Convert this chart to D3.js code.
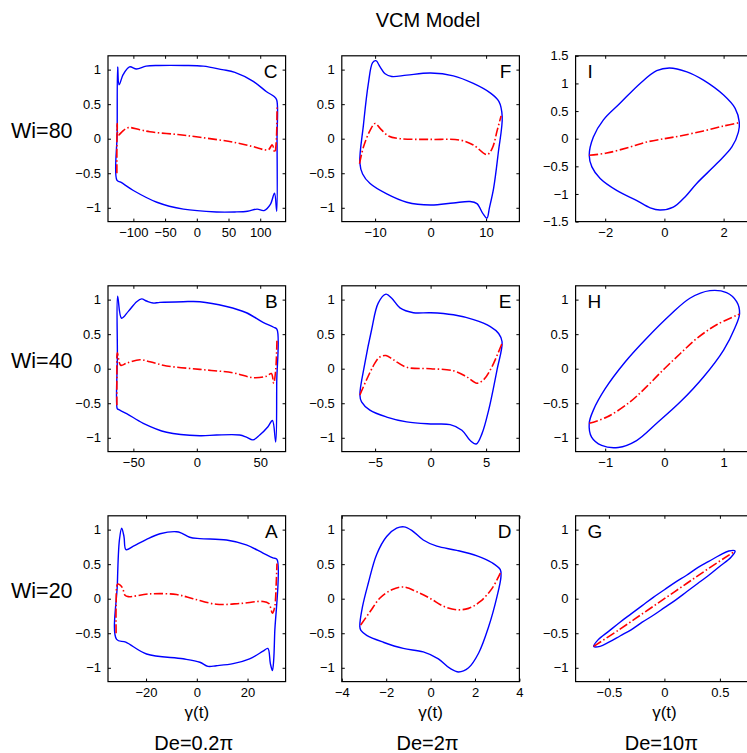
<!DOCTYPE html>
<html><head><meta charset="utf-8">
<script src="https://cdn.jsdelivr.net/npm/d3@7"></script>
<style>body{margin:0;background:#fff} text{font-family:"Liberation Sans",Arial,Helvetica,sans-serif;fill:#000}</style>
</head><body><svg id="c" width="747" height="753"></svg>
<script>
// ---- labels ----
const chartTitle = "VCM Model";
const rowLabels = ["Wi=80", "Wi=40", "Wi=20"];
const colLabels = ["De=0.2π", "De=2π", "De=10π"];
const xAxisLabel = "γ(t)";
const panelLetters = ["C", "F", "I", "B", "E", "H", "A", "D", "G"];

// ---- axis domains & ticks (panel order C F I / B E H / A D G) ----
const xDomains = [[-140,140],[-16,16],[-3,3],[-70,70],[-8,8],[-1.5,1.5],[-35,35],[-4,4],[-0.8,0.8]];
const yDomains = [[-1.2,1.2],[-1.2,1.2],[-1.5,1.5],[-1.2,1.2],[-1.2,1.2],[-1.2,1.2],[-1.2,1.2],[-1.2,1.2],[-1.2,1.2]];
const xTicks = [[-100,-50,0,50,100],[-10,0,10],[-2,0,2],[-50,0,50],[-5,0,5],[-1,0,1],[-20,0,20],[-4,-2,0,2,4],[-0.5,0,0.5]];
const yTicksStd = [-1,-0.5,0,0.5,1];
const yTicksWide = [-1.5,-1,-0.5,0,0.5,1,1.5];

// ---- series: blue loops (shear stress) and red curves, [γ, value] ----
const loopC = [[-126,-0.6],[-125.5,0.1],[-124.8,1.04],[-122.5,0.78],[-116,0.93],[-106,1.04],[-95,1.01],[-80,1.05],[-60,1.06],[-20,1.06],[10,1.05],[40,1.0],[60,0.96],[89,0.83],[110,0.68],[122,0.61],[126,0.56],[126.5,0],[126,-1.05],[122.5,-0.79],[116,-0.95],[106,-1.04],[95,-1.02],[80,-1.05],[60,-1.06],[31,-1.06],[-21,-1.02],[-63,-0.92],[-100,-0.75],[-120,-0.63]];
const redC = [[-126,-0.5],[-126,-0.15],[-125.5,0.22],[-124,0.05],[-118,0.1],[-108,0.16],[-90,0.13],[-74,0.1],[-30,0.06],[5,0.02],[57,-0.05],[95,-0.13],[106,-0.16],[113,-0.16],[119,-0.09],[123,-0.2],[125.5,0],[126.5,0.45]];

const loopF = [[-12.75,-0.35],[-12.1,0.2],[-11.25,0.78],[-10.45,1.1],[-9.85,1.13],[-9.1,1.04],[-8.2,0.94],[-7.0,0.9],[-4.3,0.92],[0,0.95],[4.1,0.91],[7.7,0.8],[10.8,0.66],[12.3,0.54],[12.9,0.32],[12.2,-0.2],[11.35,-0.72],[10.6,-1.0],[10.15,-1.15],[9.4,-1.08],[8.35,-0.94],[7.1,-0.91],[4.1,-0.93],[0,-0.96],[-4.3,-0.92],[-7.9,-0.8],[-10.9,-0.65],[-12.25,-0.51]];
const redF = [[-12.8,-0.36],[-12.1,-0.12],[-10.9,0.12],[-10.0,0.22],[-9.1,0.15],[-7.6,0.04],[-5.5,0.0],[0,-0.01],[5.3,-0.02],[7.7,-0.09],[10.15,-0.23],[11.1,-0.14],[12.0,0.12],[12.7,0.33]];

const loopI = [[-2.54,-0.3],[-2.45,-0.51],[-2.17,-0.72],[-1.6,-0.94],[-0.93,-1.12],[-0.48,-1.25],[-0.15,-1.29],[0.3,-1.24],[0.72,-1.04],[1.09,-0.81],[1.77,-0.45],[2.28,-0.15],[2.5,0.12],[2.53,0.3],[2.39,0.55],[2.0,0.79],[1.32,1.06],[0.76,1.21],[0.17,1.28],[-0.26,1.23],[-0.82,1.0],[-1.5,0.64],[-2.06,0.34],[-2.4,0.03]];
const redI = [[-2.54,-0.3],[-1.95,-0.26],[-1.16,-0.15],[-0.6,-0.06],[0,0],[0.53,0.05],[1.32,0.14],[2.0,0.23],[2.53,0.29]];

const loopB = [[-62.7,-0.58],[-62.6,0.2],[-62.4,1.05],[-59.3,0.73],[-54,0.83],[-47.4,0.97],[-43.5,1.01],[-39.6,0.98],[-34.4,0.95],[-29.1,0.96],[-10.8,0.97],[2.4,0.97],[23.4,0.9],[39.1,0.81],[52.2,0.67],[60.6,0.6],[63.2,0.57],[63,-0.2],[62.2,-1.06],[59.6,-0.75],[56.1,-0.84],[49.6,-0.96],[44.3,-1.03],[39.1,-0.99],[33.8,-0.96],[15.5,-0.96],[2.4,-0.97],[-23.8,-0.92],[-42.2,-0.79],[-55.3,-0.65],[-61.9,-0.59]];
const redB = [[-63,-0.53],[-63,-0.1],[-62.6,0.23],[-60,0.05],[-55.3,0.08],[-44.8,0.13],[-37,0.1],[-23.8,0.04],[2.4,-0.01],[28.6,-0.06],[44.3,-0.13],[54.8,-0.11],[58.8,-0.07],[60.6,-0.21],[62.2,-0.02],[63.2,0.42]];

const loopE = [[-6.37,-0.38],[-5.92,0.08],[-5.32,0.56],[-4.72,0.95],[-4.02,1.08],[-3.5,1.02],[-2.76,0.88],[-1.55,0.81],[0,0.81],[2.06,0.78],[3.87,0.71],[5.38,0.61],[6.13,0.51],[6.44,0.39],[5.98,-0.02],[5.23,-0.6],[4.63,-0.94],[4.11,-1.09],[3.57,-1.04],[2.82,-0.89],[1.76,-0.81],[0,-0.8],[-2.15,-0.77],[-3.96,-0.7],[-5.47,-0.6],[-6.22,-0.48]];
const redE = [[-6.37,-0.38],[-5.77,-0.16],[-5.02,0.08],[-4.57,0.17],[-4.02,0.19],[-3.36,0.13],[-2.15,0.02],[0,0],[2.06,-0.03],[3.27,-0.12],[4.17,-0.21],[4.77,-0.16],[5.53,0.03],[6.44,0.37]];

const loopH = [[0.77,1.13],[1.05,1.1],[1.22,0.97],[1.27,0.8],[1.19,0.59],[1.0,0.27],[0.66,-0.12],[0.27,-0.48],[-0.13,-0.79],[-0.47,-1.04],[-0.78,-1.14],[-1.06,-1.11],[-1.23,-0.99],[-1.27,-0.79],[-1.2,-0.6],[-1.0,-0.29],[-0.66,0.1],[-0.3,0.44],[0.1,0.78],[0.43,1.02]];
const redH = [[-1.27,-0.79],[-0.97,-0.7],[-0.58,-0.48],[-0.3,-0.26],[0,0],[0.27,0.22],[0.55,0.44],[0.89,0.64],[1.27,0.79]];

const loopA = [[-31.6,-0.59],[-31.3,0.22],[-30.5,0.85],[-29.6,1.02],[-28.7,0.9],[-27.9,0.71],[-25,0.76],[-19.8,0.86],[-14.5,0.94],[-8,0.97],[-6,0.95],[-2.8,0.89],[1.2,0.87],[11.7,0.85],[19.5,0.78],[26.1,0.66],[30,0.59],[31.6,0.57],[30.7,-0.5],[30.3,-0.89],[29.8,-1.04],[29,-0.94],[28,-0.72],[26.1,-0.76],[20.8,-0.87],[14.3,-0.94],[7.7,-0.97],[4.4,-0.98],[1.2,-0.92],[-5.4,-0.87],[-19.8,-0.8],[-28,-0.63]];
const redA = [[-31.8,-0.5],[-31.8,-0.1],[-31.2,0.21],[-30.3,0.2],[-29.2,0.15],[-28.3,0.05],[-27,0.03],[-18.5,0.07],[-8,0.06],[-1.5,0],[7.7,-0.08],[16.9,-0.07],[26.1,-0.04],[28.4,-0.07],[29.8,-0.21],[30.7,-0.12],[31.3,0.22],[31.6,0.51]];

const loopD = [[-3.19,-0.4],[-3.07,-0.12],[-2.81,0.22],[-2.43,0.64],[-1.98,0.9],[-1.53,1.02],[-1.2,1.04],[-0.85,0.99],[-0.33,0.85],[0.28,0.76],[1.18,0.7],[2.09,0.62],[2.77,0.52],[3.14,0.42],[3.17,0.32],[2.99,0.03],[2.61,-0.41],[2.16,-0.79],[1.71,-1.0],[1.26,-1.06],[0.88,-1.01],[0.35,-0.87],[-0.33,-0.77],[-1.23,-0.72],[-2.13,-0.63],[-2.88,-0.53],[-3.14,-0.46]];
const redD = [[-3.15,-0.38],[-2.73,-0.19],[-2.28,0.01],[-1.75,0.13],[-1.23,0.17],[-0.62,0.1],[0,0],[0.58,-0.11],[1.18,-0.16],[1.71,-0.14],[2.24,-0.04],[2.77,0.15],[3.14,0.37]];

const loopG = [[-0.637,-0.69],[-0.6,-0.6],[-0.5,-0.47],[-0.4,-0.34],[-0.3,-0.22],[-0.2,-0.1],[-0.1,0.02],[0,0.13],[0.1,0.24],[0.2,0.34],[0.3,0.45],[0.4,0.54],[0.5,0.63],[0.58,0.69],[0.637,0.69],[0.6,0.6],[0.5,0.47],[0.4,0.34],[0.3,0.22],[0.2,0.1],[0.1,-0.02],[0,-0.13],[-0.1,-0.24],[-0.2,-0.34],[-0.3,-0.45],[-0.4,-0.54],[-0.5,-0.63],[-0.58,-0.69]];
const redG = [[-0.637,-0.69],[-0.4,-0.44],[-0.2,-0.22],[0,0],[0.2,0.22],[0.4,0.44],[0.637,0.69]];

const blueLoops = [loopC, loopF, loopI, loopB, loopE, loopH, loopA, loopD, loopG];
const redCurves = [redC, redF, redI, redB, redE, redH, redA, redD, redG];

// ---- layout ----
const colX = [108, 341.8, 575.6];
const rowY = [55.8, 285.8, 515.8];
const pw = 177.6, ph = 165.8;
const tickLen = 3;
const minus = v => (v < 0 ? "\u2212" : "") + String(Math.abs(v));

const svg = d3.select("#c");
svg.append("text").attr("x", 428).attr("y", 27).attr("text-anchor", "middle")
  .attr("font-size", 20).text(chartTitle);

rowLabels.forEach((t, r) => {
  svg.append("text").attr("x", 11).attr("y", rowY[r] + ph / 2 - 0.5).attr("font-size", 21.5).text(t);
});
colLabels.forEach((t, c) => {
  svg.append("text").attr("x", colX[c] + pw / 2 - 3).attr("y", 750).attr("text-anchor", "middle")
    .attr("font-size", 20).text(t);
  svg.append("text").attr("x", colX[c] + pw / 2).attr("y", 718).attr("text-anchor", "middle")
    .attr("font-size", 17).text(xAxisLabel);
});

panelLetters.forEach((letter, i) => {
  const r = Math.floor(i / 3), c = i % 3;
  const g = svg.append("g").attr("transform", `translate(${colX[c]},${rowY[r]})`);
  const x = d3.scaleLinear().domain(xDomains[i]).range([0, pw]);
  const y = d3.scaleLinear().domain(yDomains[i]).range([ph, 0]);
  const yt = (i === 2) ? yTicksWide : yTicksStd;

  const clipId = "clip" + i;
  g.append("clipPath").attr("id", clipId).append("rect").attr("width", pw).attr("height", ph);

  // axes via d3 axis generators (inward ticks on all four sides)
  const ax = [
    g.append("g").attr("transform", `translate(0,${ph})`).call(d3.axisBottom(x).tickValues(xTicks[i]).tickSize(-tickLen).tickPadding(6).tickFormat(minus)),
    g.append("g").call(d3.axisTop(x).tickValues(xTicks[i]).tickSize(-tickLen).tickFormat("")),
    g.append("g").call(d3.axisLeft(y).tickValues(yt).tickSize(-tickLen).tickPadding(7).tickFormat(minus)),
    g.append("g").attr("transform", `translate(${pw},0)`).call(d3.axisRight(y).tickValues(yt).tickSize(-tickLen).tickFormat(""))
  ];
  ax.forEach(a => {
    a.select(".domain").remove();
    a.selectAll("line").attr("stroke", "#000").attr("stroke-width", 1);
    a.selectAll("text").attr("font-size", 13).attr("font-family", '"Liberation Sans",Arial,sans-serif').attr("fill", "#111");
  });

  const plot = g.append("g").attr("clip-path", `url(#${clipId})`);
  const lineClosed = d3.line().x(d => x(d[0])).y(d => y(d[1])).curve(d3.curveCatmullRomClosed.alpha(0.5));
  const lineOpen = d3.line().x(d => x(d[0])).y(d => y(d[1])).curve(d3.curveCatmullRom.alpha(0.5));
  plot.append("path").attr("d", lineClosed(blueLoops[i])).attr("fill", "none")
    .attr("stroke", "#0000ff").attr("stroke-width", 1.4);
  plot.append("path").attr("d", lineOpen(redCurves[i])).attr("fill", "none")
    .attr("stroke", "#ff0000").attr("stroke-width", 1.6).attr("stroke-dasharray", "9,2.5,1.5,2.5");

  g.append("rect").attr("width", pw).attr("height", ph).attr("fill", "none")
    .attr("stroke", "#000").attr("stroke-width", 1.2);

  const left = (c === 2);
  g.append("text").attr("x", left ? 12 : pw - 8).attr("y", 22)
    .attr("text-anchor", left ? "start" : "end").attr("font-size", 19).text(letter);
});
</script></body></html>
